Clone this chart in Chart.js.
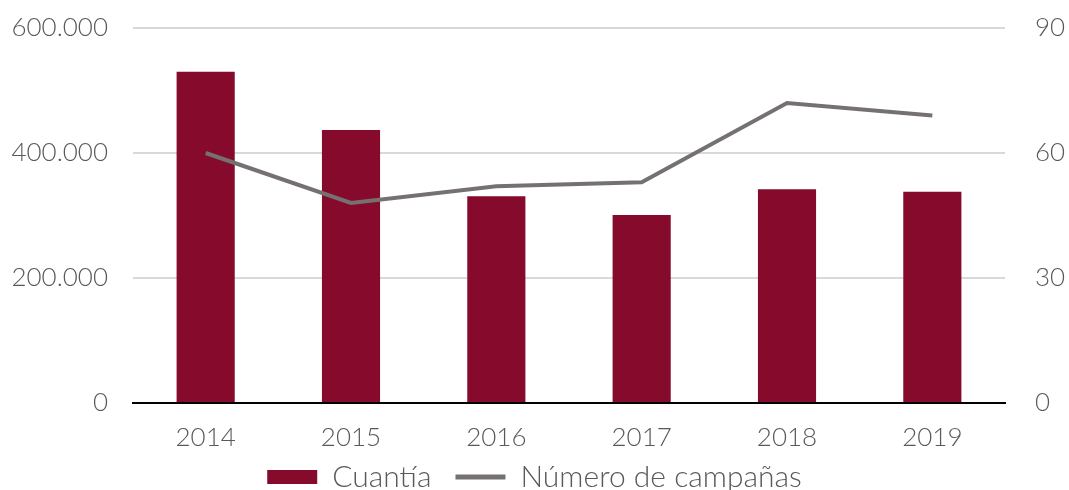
<!DOCTYPE html>
<html>
<head>
    <meta charset="UTF-8">
    <title>Cuantía y número de campañas</title>
    <script src="https://cdn.jsdelivr.net/npm/chart.js"></script>
    <style>
        body { margin: 0; background: #fff; }
    </style>
</head>
<body>
    <canvas id="chart" width="1069" height="490"></canvas>
    <script>
        const years = ['2014', '2015', '2016', '2017', '2018', '2019'];
        const cuantia = [530000, 437000, 331000, 301000, 342000, 338000];
        const campanas = [60, 48, 52, 53, 72, 69];
        const leftTicks = [0, 200000, 400000, 600000];
        const rightTicks = [0, 30, 60, 90];

        const textColor = '#595959';
        const fontFamily = 'Lato';

        function miles(v) {
            return String(v).replace(/\B(?=(\d{3})+(?!\d))/g, '.');
        }

        // keep the tick padding from pushing the plot area down
        function noVPad(s, w) {
            s.width = w;
            s.paddingTop = 0;
            s.paddingBottom = 0;
        }

        // legend padding is wide between items, so set its box by hand
        const legendBox = {
            id: 'legendBox',
            beforeLayout(chart) {
                const lg = chart.legend;
                if (lg && !lg._patched) {
                    const fit = lg.fit;
                    lg.fit = function () {
                        fit.call(this);
                        this.height = 37;
                    };
                    lg._patched = true;
                }
            },
            beforeDraw(chart) {
                const lg = chart.legend;
                lg.top = 438;
                lg.bottom = 490;
            }
        };

        const ctx = document.getElementById('chart').getContext('2d');
        new Chart(ctx, {
            data: {
                labels: years,
                datasets: [{
                    type: 'line',
                    label: 'Número de campañas',
                    data: campanas,
                    yAxisID: 'y2',
                    borderColor: '#767171',
                    backgroundColor: '#767171',
                    borderWidth: 4,
                    pointRadius: 0,
                    pointStyle: 'line',
                    pointBorderWidth: 5,
                    tension: 0,
                    order: 0
                }, {
                    type: 'bar',
                    label: 'Cuantía',
                    data: cuantia,
                    yAxisID: 'y',
                    backgroundColor: '#850a2b',
                    pointStyle: 'rect',
                    barPercentage: 0.4,
                    categoryPercentage: 1,
                    order: 1
                }]
            },
            options: {
                responsive: false,
                animation: false,
                layout: { padding: { top: 28, left: 0, right: 0, bottom: 0 } },
                scales: {
                    x: {
                        grid: { display: false, drawTicks: false },
                        border: { display: true, color: '#000', width: 2 },
                        ticks: {
                            color: textColor,
                            font: { family: fontFamily, size: 26, weight: 300 },
                            padding: 19,
                            autoSkip: false,
                            maxRotation: 0
                        },
                        afterFit: (s) => { s.height = 50; }
                    },
                    y: {
                        position: 'left',
                        min: 0,
                        max: 600000,
                        afterBuildTicks: (s) => { s.ticks = leftTicks.map(v => ({ value: v })); },
                        grid: { color: '#d9d9d9', lineWidth: 2, drawTicks: false },
                        border: { display: false },
                        ticks: {
                            color: textColor,
                            font: { family: fontFamily, size: 26, weight: 300 },
                            padding: 25,
                            callback: (v) => miles(v)
                        },
                        afterFit: (s) => noVPad(s, 133)
                    },
                    y2: {
                        position: 'right',
                        min: 0,
                        max: 90,
                        afterBuildTicks: (s) => { s.ticks = rightTicks.map(v => ({ value: v })); },
                        grid: { display: false, drawTicks: false },
                        border: { display: false },
                        ticks: { color: textColor, font: { family: fontFamily, size: 26, weight: 300 }, padding: 30 },
                        afterFit: (s) => noVPad(s, 64)
                    }
                },
                plugins: {
                    legend: {
                        position: 'bottom',
                        reverse: true,
                        labels: {
                            usePointStyle: true,
                            pointStyleWidth: 50,
                            boxHeight: 14,
                            color: textColor,
                            font: { family: fontFamily, size: 30, weight: 300 },
                            padding: 24
                        }
                    },
                    tooltip: { enabled: false }
                }
            },
            plugins: [legendBox]
        });
    </script>
</body>
</html>
